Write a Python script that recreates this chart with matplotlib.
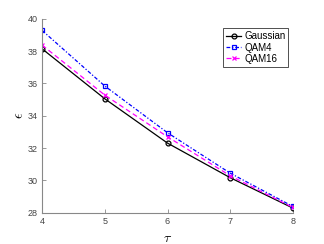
import matplotlib
matplotlib.use("Agg")
import matplotlib.pyplot as plt

tau = [4, 5, 6, 7, 8]
gaussian = [38.14, 35.05, 32.31, 30.17, 28.29]
qam4 = [39.28, 35.84, 32.95, 30.45, 28.39]
qam16 = [38.37, 35.28, 32.70, 30.29, 28.33]

plt.rcParams["font.family"] = ["Liberation Sans", "DejaVu Sans"]
plt.rcParams["mathtext.fontset"] = "cm"

fig = plt.figure(figsize=(3.24, 2.44), dpi=100)
ax = fig.add_axes([0.130, 0.128, 0.774, 0.795])

ax.plot(tau, gaussian, color="black", linestyle="-", linewidth=0.9,
        marker="o", markersize=3.5, markerfacecolor="none", markeredgewidth=0.9,
        label="Gaussian")
ax.plot(tau, qam4, color="blue", linestyle=(0, (3, 1.5, 1, 1.5)), linewidth=0.9,
        marker="s", markersize=3.5, markerfacecolor="none", markeredgewidth=0.9,
        label="QAM4")
ax.plot(tau, qam16, color="magenta", linestyle=(0, (4, 2.5)), linewidth=0.9,
        marker="x", markersize=3.5, markeredgewidth=0.9,
        label="QAM16")

ax.set_xlim(4, 8)
ax.set_ylim(28, 40)
ax.set_xticks(tau)
ax.set_yticks([28, 30, 32, 34, 36, 38, 40])

for side in ["top", "right"]:
    ax.spines[side].set_visible(False)
for side in ["left", "bottom"]:
    ax.spines[side].set_color("#888888")
    ax.spines[side].set_linewidth(0.8)
ax.tick_params(direction="in", length=3, width=0.6, color="#888888",
               labelsize=6.5, labelcolor="#444444", pad=3)

ax.set_xlabel(r"$\tau$", fontsize=10, labelpad=4)
ax.set_ylabel(r"$\epsilon$", fontsize=10, labelpad=1)

leg = ax.legend(loc="upper right", bbox_to_anchor=(0.99, 0.96), fontsize=7,
                fancybox=False, framealpha=1, edgecolor="#333333",
                handlelength=1.6, handletextpad=0.3, borderpad=0.3,
                labelspacing=0.12, borderaxespad=0.2)
leg.get_frame().set_linewidth(0.6)

fig.savefig("out.png", dpi=100)
